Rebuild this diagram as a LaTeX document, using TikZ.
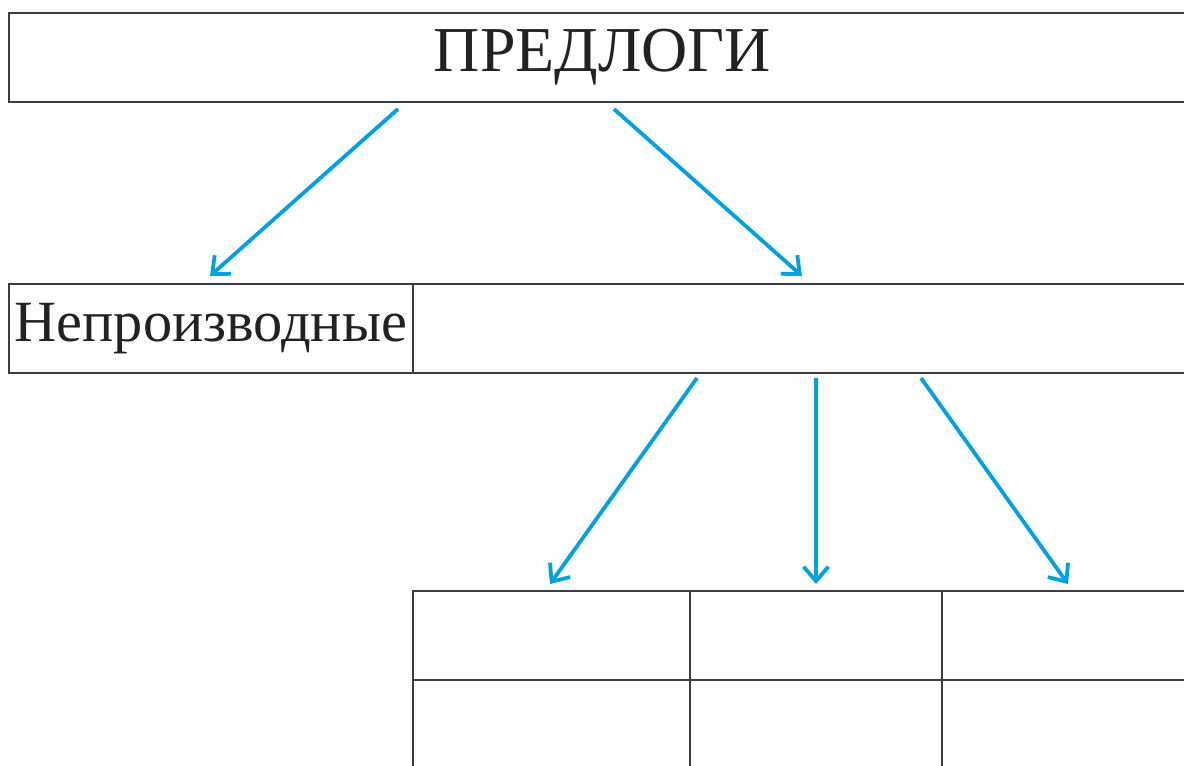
\documentclass[tikz,border=0pt]{standalone}
\usepackage{fontspec}
\setmainfont{Liberation Serif}
\usetikzlibrary{arrows.meta}
\definecolor{arrowblue}{RGB}{0,160,227}
\definecolor{linegray}{RGB}{60,60,60}
\definecolor{textgray}{RGB}{34,34,34}
\tikzset{
  box/.style={draw=linegray, line width=1.3pt, inner sep=0pt, anchor=north west,
    minimum height=2.225cm, text=textgray},
  link/.style={arrowblue, line width=2.7pt, -{Straight Barb[length=3.6mm,width=6.2mm]}},
}
\begin{document}
\begin{tikzpicture}[x=0.025cm, y=-0.025cm]
\useasboundingbox (0,0) rectangle (1184,765);
\clip (0,0) rectangle (1184,765);
% top
\node[box, minimum width=29.675cm, font=\fontsize{45.5}{55}\selectfont] (title) at (8,12) {ПРЕДЛОГИ};
% second row
\node[box, minimum width=10.1cm, font=\fontsize{41.5}{50}\selectfont] (nonderived) at (8,283) {Непроизводные};
\node[box, minimum width=20cm] (derived) at (412,283) {};
% table
\foreach \r/\y in {1/590, 2/679}
{
    \node[box, minimum width=6.925cm] (cell\r1) at (412,\y) {};
    \node[box, minimum width=6.3cm] (cell\r2) at (689,\y) {};
    \node[box, minimum width=6.5cm] (cell\r3) at (941,\y) {};
}
% arrows
\coordinate (t1) at (398,109);
\coordinate (t2) at (614,109);
\coordinate (n1) at (210,276);
\coordinate (d1) at (802,276);
\coordinate (s1) at (697,378);
\coordinate (s2) at (816,378);
\coordinate (s3) at (921,378);
\coordinate (e1) at (550,584);
\coordinate (e2) at (816,584);
\coordinate (e3) at (1068,584);
\draw[link] (t1)--(n1);
\draw[link] (t2)--(d1);
\draw[link] (s1)--(e1);
\draw[link] (s2)--(e2);
\draw[link] (s3)--(e3);
\end{tikzpicture}
\end{document}
